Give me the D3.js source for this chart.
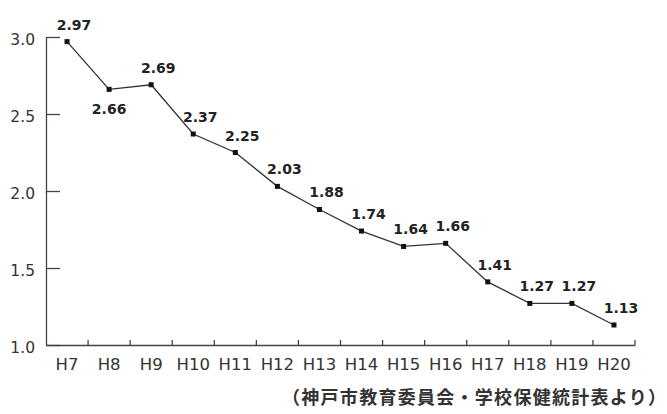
<!DOCTYPE html>
<html>
<head>
<meta charset="utf-8">
<script src="https://cdn.jsdelivr.net/npm/d3@7"></script>
<style>
  html, body { margin: 0; padding: 0; background: #fff; }
  svg { display: block; }
</style>
</head>
<body>
<svg id="chart" width="667" height="414"></svg>
<script>
const categories = ["H7","H8","H9","H10","H11","H12","H13","H14","H15","H16","H17","H18","H19","H20"];
const values = [2.97, 2.66, 2.69, 2.37, 2.25, 2.03, 1.88, 1.74, 1.64, 1.66, 1.41, 1.27, 1.27, 1.13];
const yTicks = [1.0, 1.5, 2.0, 2.5, 3.0];
const sourceNote = "（神戸市教育委員会・学校保健統計表より）";
const labelsBelow = ["H8"];

const svg = d3.select("#chart");
svg.append("rect").attr("width", 667).attr("height", 414).attr("fill", "#fff");

const margin = { left: 46, right: 32, top: 37, bottom: 69 };
const W = 667, H = 414;
const x = d3.scaleBand().domain(categories).range([margin.left, W - margin.right]).padding(0);
const y = d3.scaleLinear().domain([1, 3]).range([H - margin.bottom, margin.top]);

const axisColor = "#444";
const textColor = "#333";

// Y axis
const yAxis = svg.append("g").attr("transform", `translate(${margin.left},0)`)
  .call(d3.axisLeft(y).tickValues(yTicks).tickFormat(d3.format(".1f")).tickSizeInner(-14).tickSizeOuter(0).tickPadding(11));
yAxis.select(".domain").attr("stroke", axisColor).attr("stroke-width", 1.3);
yAxis.selectAll(".tick line").attr("stroke", axisColor).attr("stroke-width", 1.3);
yAxis.selectAll(".tick text").attr("font-family", "DejaVu Sans, sans-serif").attr("font-size", 15.5)
  .attr("fill", textColor).attr("dy", "0.5em");

// X axis
const xAxis = svg.append("g").attr("transform", `translate(0,${H - margin.bottom})`)
  .call(d3.axisBottom(x).tickSize(0).tickPadding(13));
xAxis.select(".domain").attr("stroke", axisColor).attr("stroke-width", 1.3);
xAxis.selectAll(".tick text").attr("font-family", "DejaVu Sans, sans-serif").attr("font-size", 16.5)
  .attr("fill", textColor);
// boundary ticks
svg.append("g").selectAll("line").data(categories).join("line")
  .attr("x1", d => x(d) + x.bandwidth()).attr("x2", d => x(d) + x.bandwidth())
  .attr("y1", H - margin.bottom).attr("y2", H - margin.bottom - 5)
  .attr("stroke", axisColor).attr("stroke-width", 1.3);

const pts = categories.map((c, i) => ({ c, v: values[i] }));
const cx = d => x(d.c) + x.bandwidth() / 2;

// line
svg.append("path").datum(pts)
  .attr("d", d3.line().x(cx).y(d => y(d.v)))
  .attr("fill", "none").attr("stroke", "#333").attr("stroke-width", 1.3);

// markers
svg.append("g").selectAll("rect").data(pts).join("rect")
  .attr("x", d => cx(d) - 2.5).attr("y", d => y(d.v) - 2.5)
  .attr("width", 5).attr("height", 5).attr("fill", "#111");

// value labels
svg.append("g").selectAll("text").data(pts).join("text")
  .attr("x", d => labelsBelow.includes(d.c) ? cx(d) : cx(d) + 7)
  .attr("y", d => labelsBelow.includes(d.c) ? y(d.v) + 25 : y(d.v) - 12)
  .attr("text-anchor", "middle")
  .attr("font-family", "DejaVu Sans, sans-serif").attr("font-weight", "bold").attr("font-size", 14)
  .attr("fill", "#222")
  .text(d => d3.format(".2f")(d.v));

// source note
svg.append("text")
  .attr("x", 282).attr("y", 404)
  .attr("font-family", "Noto Sans CJK JP, sans-serif").attr("font-weight", "bold").attr("font-size", 18)
  .attr("fill", "#333")
  .attr("textLength", 384).attr("lengthAdjust", "spacing")
  .text(sourceNote);
</script>
</body>
</html>
